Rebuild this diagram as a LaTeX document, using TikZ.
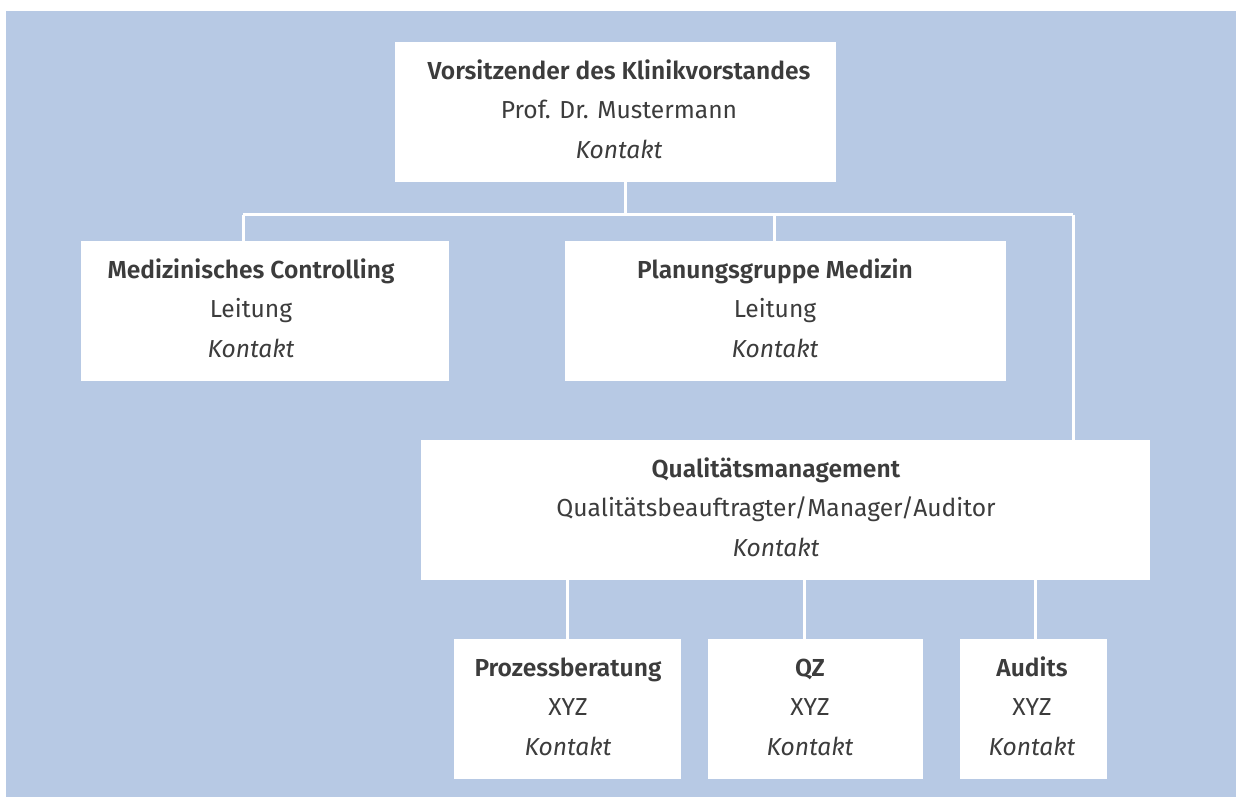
\documentclass[tikz,border=0pt]{standalone}
\usepackage{fontspec}
\setmainfont{Fira Sans}[BoldFont={Fira Sans SemiBold}]
\definecolor{bgblue}{HTML}{B7C9E4}
\definecolor{txt}{HTML}{3C3C3C}
\tikzset{
  orgbox/.style={fill=white, draw=none, inner sep=0pt, anchor=north west},
  orglabel/.style={align=center, inner sep=0pt, anchor=base, text=txt,
    font=\fontsize{24.6}{39.5}\selectfont},
  link/.style={draw=white, line width=3pt}
}
\begin{document}
\begin{tikzpicture}[x=1pt,y=-1pt]
\useasboundingbox (0,0) rectangle (1236,797);
\fill[bgblue] (6,11) rectangle (1236,797);
% boxes
\node[orgbox, minimum width=441pt, minimum height=140pt] (vor) at (395,42) {};
\node[orgbox, minimum width=368pt, minimum height=140pt] (med) at (81,241) {};
\node[orgbox, minimum width=441pt, minimum height=140pt] (plan) at (565,241) {};
\node[orgbox, minimum width=729pt, minimum height=140pt] (qm) at (421,440) {};
\node[orgbox, minimum width=227pt, minimum height=140pt] (proz) at (454,639) {};
\node[orgbox, minimum width=215pt, minimum height=140pt] (qz) at (708,639) {};
\node[orgbox, minimum width=147pt, minimum height=140pt] (aud) at (960,639) {};
% labels (anchored at the baseline of the last line)
\node[orglabel] (tvor) at (619,158) {\textbf{Vorsitzender des Klinikvorstandes}\\Prof. Dr. Mustermann\\\textit{Kontakt}};
\node[orglabel] (tmed) at (251,357) {\textbf{Medizinisches Controlling}\\Leitung\\\textit{Kontakt}};
\node[orglabel] (tplan) at (775,357) {\textbf{Planungsgruppe Medizin}\\Leitung\\\textit{Kontakt}};
\node[orglabel] (tqm) at (776,556) {\textbf{Qualitätsmanagement}\\Qualitätsbeauftragter/Manager/Auditor\\\textit{Kontakt}};
\node[orglabel] (tproz) at (568,755) {\textbf{Prozessberatung}\\XYZ\\\textit{Kontakt}};
\node[orglabel] (tqz) at (810,755) {\textbf{QZ}\\XYZ\\\textit{Kontakt}};
\node[orglabel] (taud) at (1032,755) {\textbf{Audits}\\XYZ\\\textit{Kontakt}};
% connectors
\coordinate (bus) at (0,214.5);
\draw[link] (vor.south -| 625.5,0) -- (bus -| 625.5,0);
\draw[link] (bus -| 243,0) -- (bus -| 1073,0);
\draw[link] (bus -| 243,0) -- (med.north -| 243,0);
\draw[link] (bus -| 774,0) -- (plan.north -| 774,0);
\draw[link] (bus -| 1073,0) -- (qm.north -| 1073,0);
\draw[link] (qm.south -| 567,0) -- (proz.north -| 567,0);
\draw[link] (qm.south -| 804.5,0) -- (qz.north -| 804.5,0);
\draw[link] (qm.south -| 1035,0) -- (aud.north -| 1035,0);
\end{tikzpicture}
\end{document}
